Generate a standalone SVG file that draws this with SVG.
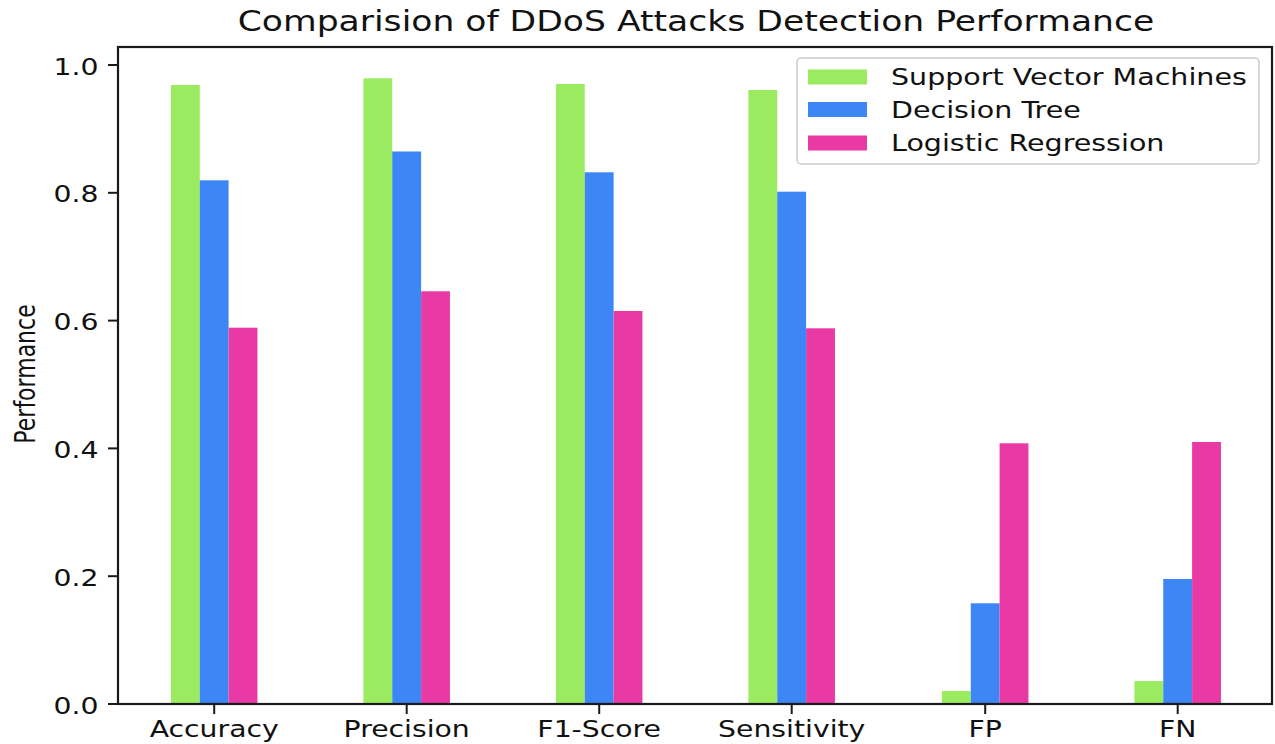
<svg xmlns="http://www.w3.org/2000/svg" width="1275" height="744" viewBox="0 0 1275 744">
  <style>
    text { font-family: "DejaVu Sans", "Liberation Sans", sans-serif; fill: #111; }
    .tick { font-size: 23px; }
    .title { font-size: 28px; }
    .ylab { font-size: 22px; }
    .svm { fill: #9BEB60; }
    .dt { fill: #3C86F5; }
    .lr { fill: #E939A5; }
    .spine { fill: none; stroke: #1a1a1a; stroke-width: 2.2; }
    .tk { stroke: #1a1a1a; stroke-width: 2; }
  </style>
  <rect width="1275" height="744" fill="#ffffff"/>

  <!-- title -->
  <text class="title" text-anchor="middle" transform="translate(696,31) scale(1.235,1)">Comparision of DDoS Attacks Detection Performance</text>

  <!-- bars: baseline y=704, 639 px per unit, bar width 28.85 -->
  <g id="bars">
    <g id="accuracy">
      <rect class="svm" x="170.9" y="85" width="28.85" height="619"/>
      <rect class="dt" x="199.75" y="180.3" width="28.85" height="523.7"/>
      <rect class="lr" x="228.6" y="327.7" width="28.85" height="376.3"/>
    </g>
    <g id="precision">
      <rect class="svm" x="363.4" y="78.3" width="28.85" height="625.7"/>
      <rect class="dt" x="392.25" y="151.5" width="28.85" height="552.5"/>
      <rect class="lr" x="421.1" y="291.3" width="28.85" height="412.7"/>
    </g>
    <g id="f1score">
      <rect class="svm" x="555.9" y="84" width="28.85" height="620"/>
      <rect class="dt" x="584.75" y="172.3" width="28.85" height="531.7"/>
      <rect class="lr" x="613.6" y="311" width="28.85" height="393"/>
    </g>
    <g id="sensitivity">
      <rect class="svm" x="748.4" y="90" width="28.85" height="614"/>
      <rect class="dt" x="777.25" y="191.7" width="28.85" height="512.3"/>
      <rect class="lr" x="806.1" y="328.3" width="28.85" height="375.7"/>
    </g>
    <g id="fp">
      <rect class="svm" x="941.9" y="691" width="28.85" height="13"/>
      <rect class="dt" x="970.75" y="603.3" width="28.85" height="100.7"/>
      <rect class="lr" x="999.6" y="443.3" width="28.85" height="260.7"/>
    </g>
    <g id="fn">
      <rect class="svm" x="1134.4" y="681" width="28.85" height="23"/>
      <rect class="dt" x="1163.25" y="579" width="28.85" height="125"/>
      <rect class="lr" x="1192.1" y="442" width="28.85" height="262"/>
    </g>
  </g>

  <!-- axes frame -->
  <rect class="spine" x="118" y="47" width="1154" height="657"/>

  <!-- y axis ticks and labels -->
  <g id="yaxis">
    <line class="tk" x1="108" y1="65" x2="118" y2="65"/>
    <line class="tk" x1="108" y1="192.8" x2="118" y2="192.8"/>
    <line class="tk" x1="108" y1="320.6" x2="118" y2="320.6"/>
    <line class="tk" x1="108" y1="448.4" x2="118" y2="448.4"/>
    <line class="tk" x1="108" y1="576.2" x2="118" y2="576.2"/>
    <line class="tk" x1="108" y1="704" x2="118" y2="704"/>
    <text class="tick" text-anchor="end" transform="translate(98.5,74.5) scale(1.23,1)">1.0</text>
    <text class="tick" text-anchor="end" transform="translate(98.5,202.3) scale(1.23,1)">0.8</text>
    <text class="tick" text-anchor="end" transform="translate(98.5,330.1) scale(1.23,1)">0.6</text>
    <text class="tick" text-anchor="end" transform="translate(98.5,457.9) scale(1.23,1)">0.4</text>
    <text class="tick" text-anchor="end" transform="translate(98.5,585.7) scale(1.23,1)">0.2</text>
    <text class="tick" text-anchor="end" transform="translate(98.5,713.5) scale(1.23,1)">0.0</text>
    <text class="ylab" text-anchor="middle" transform="translate(35,374) rotate(-90) scale(1,1.25)">Performance</text>
  </g>

  <!-- x axis ticks and labels -->
  <g id="xaxis">
    <line class="tk" x1="214.2" y1="704" x2="214.2" y2="714"/>
    <line class="tk" x1="406.7" y1="704" x2="406.7" y2="714"/>
    <line class="tk" x1="599.2" y1="704" x2="599.2" y2="714"/>
    <line class="tk" x1="791.7" y1="704" x2="791.7" y2="714"/>
    <line class="tk" x1="985.2" y1="704" x2="985.2" y2="714"/>
    <line class="tk" x1="1177.7" y1="704" x2="1177.7" y2="714"/>
    <text class="tick" text-anchor="middle" transform="translate(214.2,737) scale(1.23,1)">Accuracy</text>
    <text class="tick" text-anchor="middle" transform="translate(406.7,737) scale(1.23,1)">Precision</text>
    <text class="tick" text-anchor="middle" transform="translate(599.2,737) scale(1.23,1)">F1-Score</text>
    <text class="tick" text-anchor="middle" transform="translate(791.7,737) scale(1.23,1)">Sensitivity</text>
    <text class="tick" text-anchor="middle" transform="translate(985.2,737) scale(1.23,1)">FP</text>
    <text class="tick" text-anchor="middle" transform="translate(1177.7,737) scale(1.23,1)">FN</text>
  </g>

  <!-- legend -->
  <g id="legend">
    <rect x="797" y="58" width="462" height="106" rx="4" fill="#ffffff" fill-opacity="0.8" stroke="#cccccc" stroke-width="1.5"/>
    <rect class="svm" x="808" y="69.5" width="59" height="15"/>
    <rect class="dt" x="808" y="102" width="59" height="15"/>
    <rect class="lr" x="808" y="135.5" width="59" height="15"/>
    <text class="tick" transform="translate(891,85) scale(1.24,1)">Support Vector Machines</text>
    <text class="tick" transform="translate(891,117.5) scale(1.24,1)">Decision Tree</text>
    <text class="tick" transform="translate(891,151) scale(1.24,1)">Logistic Regression</text>
  </g>
</svg>
